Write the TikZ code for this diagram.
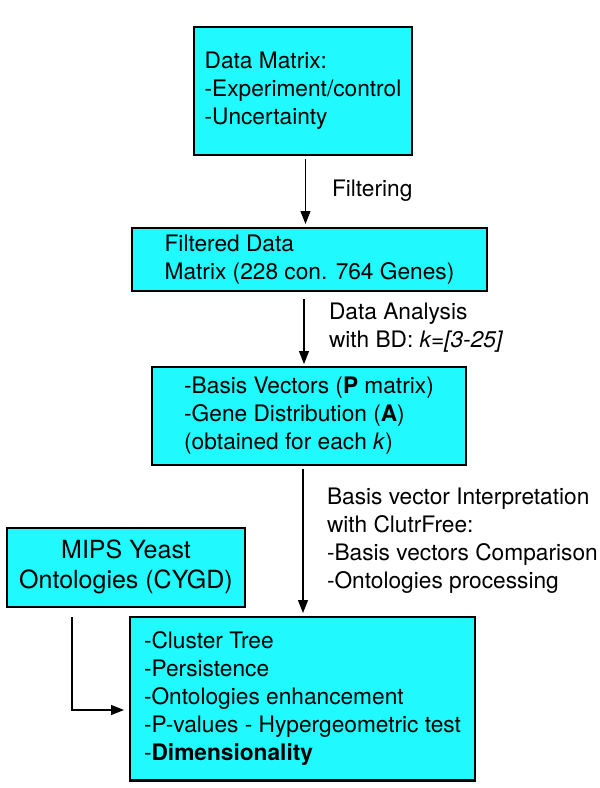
\documentclass[tikz,border=0pt]{standalone}
\usepackage{fontspec}
\setmainfont{TeX Gyre Heros}
\usetikzlibrary{arrows.meta}
\definecolor{boxcyan}{RGB}{32,250,255}
\begin{document}
\begin{tikzpicture}[x=1pt,y=-1pt,
  box/.style={draw=black, fill=boxcyan, line width=2.8pt, rectangle, outer sep=0pt,
    inner sep=0pt, align=left, font=\fontsize{22.7}{28}\selectfont},
  cbox/.style={box, align=center, font=\fontsize{25}{30}\selectfont},
  lbl/.style={inner sep=0pt, outer sep=0pt, align=left, font=\fontsize{22.7}{28}\selectfont},
  arr/.style={draw=black, line width=1.3pt, -{Triangle[length=13pt,width=10pt]}}]
\useasboundingbox[fill=white] (0,0) rectangle (600,788);

\node[box, minimum width=218pt, minimum height=128pt] (b1) at (303,91)
  {\strut Data Matrix:\\-Experiment/control\\-Uncertainty\strut};
\node[box, minimum width=355pt, minimum height=63pt] (b2) at (309.5,259.5)
  {\strut Filtered Data\\Matrix (228 con. 764 Genes)\strut};
\node[box, minimum width=314pt, minimum height=98pt] (b3) at (309,416)
  {\strut -Basis Vectors (\textbf{P} matrix)\\-Gene Distribution (\textbf{A})\\(obtained for each \textit{k})\strut};
\node[cbox, minimum width=238pt, minimum height=79pt] (b4) at (126,567.5)
  {\strut MIPS Yeast\\Ontologies (CYGD)\strut};
\node[box, minimum width=345pt, minimum height=163.5pt] (b5) at (302.5,698.75)
  {\strut -Cluster Tree\\-Persistence\\-Ontologies enhancement\\-P-values - Hypergeometric test\\-\textbf{Dimensionality}\strut};

\coordinate (c1) at (305.5,0);
\coordinate (c2) at (304,0);
\coordinate (c3) at (303,0);
\coordinate (c4) at (72,710);

\draw[arr, shorten <=4pt, shorten >=4pt] (b1.south -| c1) -- (b2.north -| c1);
\draw[arr, shorten <=8pt, shorten >=3pt] (b2.south -| c2) -- (b3.north -| c2);
\draw[arr, shorten <=4pt, shorten >=4pt] (b3.south -| c3) -- (b5.north -| c3);
\draw[arr, shorten <=10pt, shorten >=6pt] (b4.south -| c4) |- (b5.west |- c4);

\node[lbl, anchor=base west] (l1) at (332,196) {Filtering};
\node[lbl, anchor=base west] (l2) at (329,347) {Data Analysis\\with BD: \textit{k=[3-25]}};
\node[lbl, anchor=base west] (l3) at (327,588) {Basis vector Interpretation\\with ClutrFree:\\-Basis vectors Comparison\\-Ontologies processing};
\end{tikzpicture}
\end{document}
